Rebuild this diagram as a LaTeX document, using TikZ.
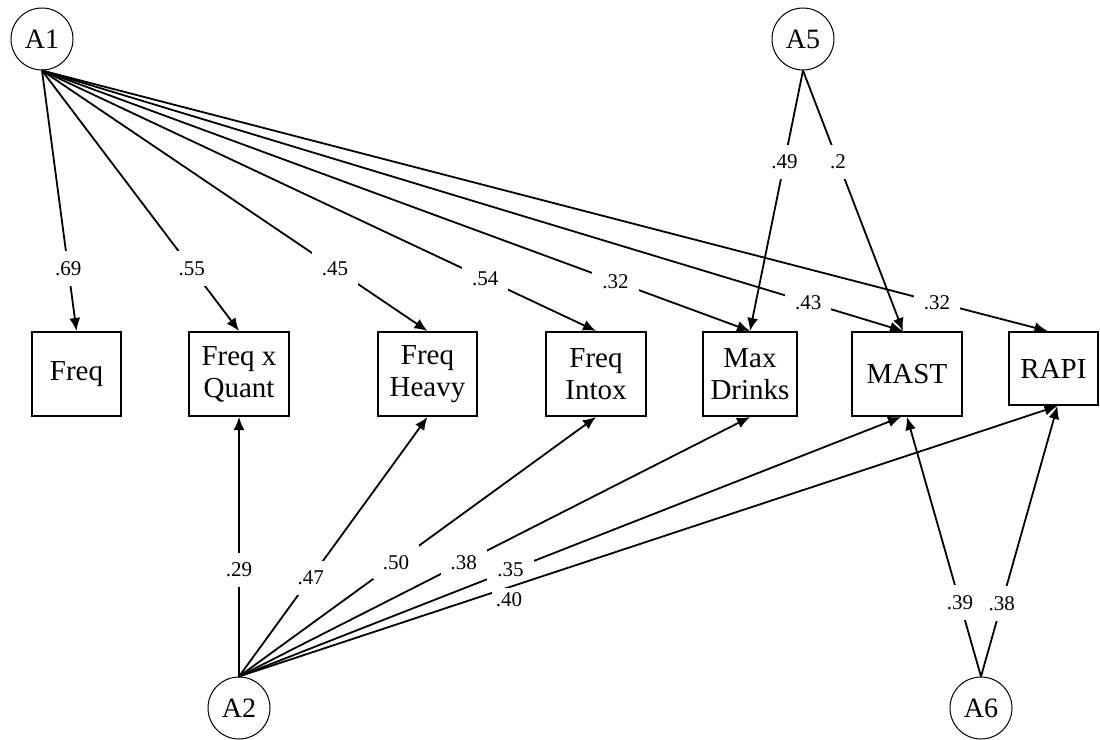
\documentclass[tikz,border=0pt]{standalone}
\usepackage{fontspec}
\setmainfont{Liberation Serif}
\usetikzlibrary{arrows.meta}

\begin{document}
\begin{tikzpicture}[x=.5pt,y=-.5pt,
    fac/.style={draw,circle,line width=.5pt,minimum size=31pt,inner sep=0pt,font=\fontsize{14}{16}\selectfont},
    ind/.style={draw,line width=1pt,minimum height=42pt,inner sep=0pt,align=center,font=\fontsize{14.5}{16}\selectfont},
    ld/.style={line width=.9pt,-{Latex[length=6.5pt,width=5.5pt]}},
    wt/.style={fill=white,inner sep=5pt,font=\fontsize{10.5}{12}\selectfont}]
  \useasboundingbox (0,0) rectangle (1100,740);
  % factors
  \node[fac] (a1) at (42,39) {A1};
  \node[fac] (a5) at (803,39) {A5};
  \node[fac] (a2) at (239,708) {A2};
  \node[fac] (a6) at (981,708) {A6};
  % indicators
  \node[ind,minimum width=44.5pt] (freq) at (76.5,374) {Freq};
  \node[ind,minimum width=50pt] (fxq) at (239,374) {Freq x\\Quant};
  \node[ind,minimum width=49.5pt] (fheavy) at (427.5,374) {Freq\\Heavy};
  \node[ind,minimum width=50pt] (fintox) at (596,374) {Freq\\Intox};
  \node[ind,minimum width=47pt] (maxdr) at (750,374) {Max\\Drinks};
  \node[ind,minimum width=55pt] (mast) at (907,374) {MAST};
  \node[ind,minimum width=44.5pt,minimum height=36.5pt] (rapi) at (1053.5,368.5) {RAPI};
  % A1 loadings
  \draw[ld] (a1.south) -- node[wt,pos=.76]{.69} (freq.north);
  \draw[ld] (a1.south) -- node[wt,pos=.76]{.55} (fxq.north);
  \draw[ld] (a1.south) -- node[wt,pos=.76]{.45} (fheavy.north);
  \draw[ld] (a1.south) -- node[wt,pos=.8]{.54} (fintox.north);
  \draw[ld] (a1.south) -- node[wt,pos=.81]{.32} (maxdr.north);
  \draw[ld] (a1.south) -- node[wt,pos=.89]{.43} ([xshift=-2pt]mast.north);
  \draw[ld] (a1.south) -- node[wt,pos=.89]{.32} ([xshift=-3pt]rapi.north);
  % A5 loadings
  \draw[ld] (a5.south) -- node[wt,pos=.35]{.49} (maxdr.north);
  \draw[ld] (a5.south) -- node[wt,pos=.35]{.2} ([xshift=-2pt]mast.north);
  % A2 loadings
  \draw[ld] (a2.north) -- node[wt,pos=.41]{.29} (fxq.south);
  \draw[ld] (a2.north) -- node[wt,pos=.38]{.47} (fheavy.south);
  \draw[ld] (a2.north) -- node[wt,pos=.44]{.50} (fintox.south);
  \draw[ld] (a2.north) -- node[wt,pos=.44]{.38} (maxdr.south);
  \draw[ld] (a2.north) -- node[wt,pos=.41]{.35} ([xshift=-3pt]mast.south);
  \draw[ld] (a2.north) -- node[wt,pos=.33,below,inner sep=2pt]{.40} ([xshift=2pt]rapi.south);
  % A6 loadings
  \draw[ld] (a6.north) -- node[wt,pos=.285]{.39} (mast.south);
  \draw[ld] (a6.north) -- node[wt,pos=.27]{.38} ([xshift=2pt]rapi.south);
\end{tikzpicture}
\end{document}
